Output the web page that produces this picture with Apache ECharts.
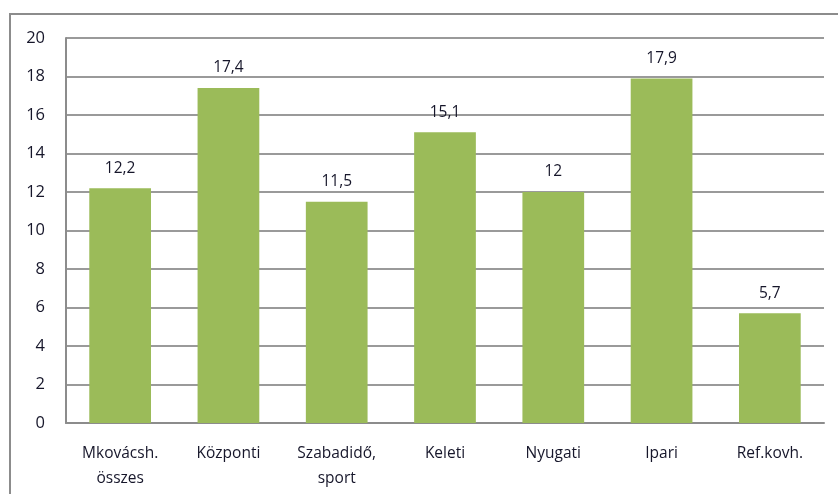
<!DOCTYPE html>
<html>
<head>
<meta charset="utf-8">
<script src="https://cdn.jsdelivr.net/npm/echarts@6/dist/echarts.min.js"></script>
<style>
  html, body { margin: 0; padding: 0; background: #fff; }
  #chart { width: 838px; height: 494px; }
</style>
</head>
<body>
<div id="chart"></div>
<script>
const categories = ['Mkovácsh.\nösszes', 'Központi', 'Szabadidő,\nsport', 'Keleti', 'Nyugati', 'Ipari', 'Ref.kovh.'];
const values = [12.2, 17.4, 11.5, 15.1, 12, 17.9, 5.7];
const yTicks = [0, 2, 4, 6, 8, 10, 12, 14, 16, 18, 20];

const fontFamily = '"Open Sans", "Noto Sans", sans-serif';
const textColor = '#16162a';
const lineGray = '#8c8c8c';

const chart = echarts.init(document.getElementById('chart'));
chart.setOption({
  animation: false,
  graphic: [{
    type: 'rect',
    shape: { x: 10, y: 14, width: 840, height: 500 },
    style: { fill: 'none', stroke: '#8c8c8c', lineWidth: 2 },
    silent: true
  }],
  grid: { left: 66, right: 14, top: 38, bottom: 71 },
  xAxis: {
    type: 'category',
    data: categories,
    axisLine: { lineStyle: { color: lineGray, width: 2 } },
    axisTick: { show: false },
    axisLabel: {
      color: textColor,
      fontFamily: fontFamily,
      fontSize: 15.5,
      lineHeight: 25,
      margin: 18,
      interval: 0
    }
  },
  yAxis: {
    type: 'value',
    min: yTicks[0],
    max: yTicks[yTicks.length - 1],
    interval: 2,
    axisLine: { show: true, lineStyle: { color: lineGray, width: 2 } },
    axisTick: { show: false },
    splitLine: { lineStyle: { color: '#9a9a9a', width: 2 } },
    axisLabel: {
      color: textColor,
      fontFamily: fontFamily,
      fontSize: 16.5,
      margin: 21
    }
  },
  series: [{
    type: 'bar',
    data: values,
    barWidth: '57%',
    itemStyle: { color: '#9bbb59' },
    label: {
      show: true,
      position: 'top',
      distance: 12,
      color: textColor,
      fontFamily: fontFamily,
      fontSize: 15.5,
      formatter: p => String(p.value).replace('.', ',')
    }
  }]
});
</script>
</body>
</html>
